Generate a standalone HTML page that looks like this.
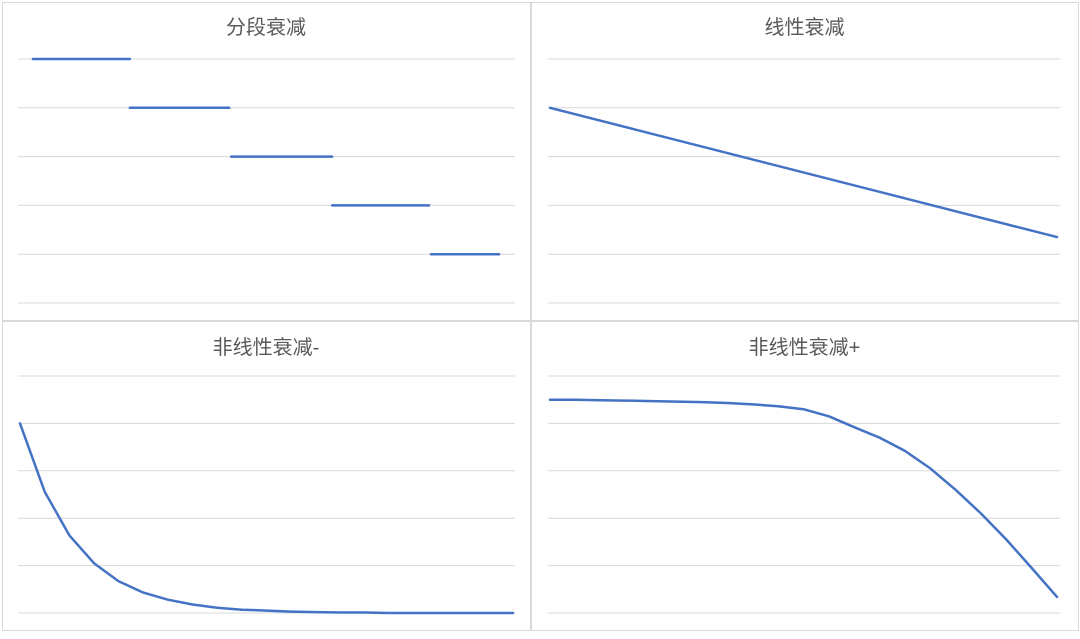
<!DOCTYPE html>
<html><head><meta charset="utf-8">
<style>
body{margin:0;background:#fff;width:1080px;height:634px;overflow:hidden;font-family:"Liberation Sans","Noto Sans CJK SC",sans-serif;}
</style></head>
<body>
<svg id="c" width="1080" height="634" xmlns="http://www.w3.org/2000/svg"></svg>
<script>
const stepValues=[5,4,3,2,1];
const stepStarts=[0.03,0.225,0.429,0.632,0.831];
const stepEnds=[0.225,0.425,0.632,0.827,0.968];
const linearX=[0,1];
const linearValues=[4.0,1.35];
const nonlinMinusValues=[4,2.56,1.64,1.05,0.67,0.43,0.28,0.18,0.11,0.07,0.05,0.03,0.02,0.01,0.01,0,0,0,0,0,0];
const nonlinPlusValues=[4.5,4.5,4.49,4.48,4.47,4.46,4.45,4.43,4.4,4.36,4.3,4.15,3.92,3.7,3.42,3.05,2.6,2.1,1.55,0.95,0.34];
const svg=document.getElementById('c');
const NS='http://www.w3.org/2000/svg';
function mk(t,a){const e=document.createElementNS(NS,t);for(const k in a)e.setAttribute(k,a[k]);svg.appendChild(e);return e;}
const panels=[
 {title:'分段衰减',x0:18,x1:515,top:59,bottom:303,ty:34,px:2,py:2,pw:528,ph:318},
 {title:'线性衰减',x0:548,x1:1060,top:59,bottom:303,ty:34,px:531,py:2,pw:547,ph:318},
 {title:'非线性衰减-',x0:18,x1:515,top:376,bottom:613,ty:354,px:2,py:321,pw:528,ph:309},
 {title:'非线性衰减+',x0:548,x1:1060,top:376,bottom:613,ty:354,px:531,py:321,pw:547,ph:309}];
panels.forEach((p,i)=>{
 const r=mk('rect',{x:p.px+0.5,y:p.py+0.5,width:p.pw,height:p.ph,fill:'#fff',stroke:'#d9d9d9'});
 
 
 for(let g=0;g<=5;g++){
  const y=p.bottom-(p.bottom-p.top)*g/5;
  const l=mk('line',{x1:p.x0,x2:p.x1,y1:y,y2:y,stroke:'#d9d9d9','stroke-width':1});
  
  
 }
 const t=mk('text',{x:(p.px+p.pw/2),y:p.ty,'text-anchor':'middle','font-size':20,fill:'#595959'});
 t.textContent=p.title;
 
 
});
function sx(p,f){return p.x0+(p.x1-p.x0)*f;}
function sy(p,v,max){return p.bottom-(p.bottom-p.top)*v/max;}
const line={fill:'none',stroke:'#4472c4','stroke-width':2.5,'stroke-linejoin':'round','stroke-linecap':'round'};
stepValues.forEach((v,i)=>{
 const p=panels[0];
 const l=mk('line',Object.assign({x1:sx(p,stepStarts[i]),x2:sx(p,stepEnds[i]),y1:sy(p,v,5),y2:sy(p,v,5)},line));
 
 
});
function path(p,xs,vals,max,name){
 let d='';vals.forEach((v,i)=>{d+=(i?'L':'M')+sx(p,xs[i]).toFixed(1)+','+sy(p,v,max).toFixed(1);});
 const e=mk('path',Object.assign({d:d},line));
 
 
}
const p2=panels[1];
path({x0:550,x1:1057,top:p2.top,bottom:p2.bottom},linearX,linearValues,5,'linear-decay-line');
const xs21=nonlinMinusValues.map((_,i)=>i/20);
const p3=panels[2];
path({x0:20,x1:513,top:p3.top,bottom:p3.bottom},xs21,nonlinMinusValues,5,'nonlinear-minus-line');
const p4=panels[3];
path({x0:550,x1:1057,top:p4.top,bottom:p4.bottom},xs21,nonlinPlusValues,5,'nonlinear-plus-line');
</script>
</body></html>
